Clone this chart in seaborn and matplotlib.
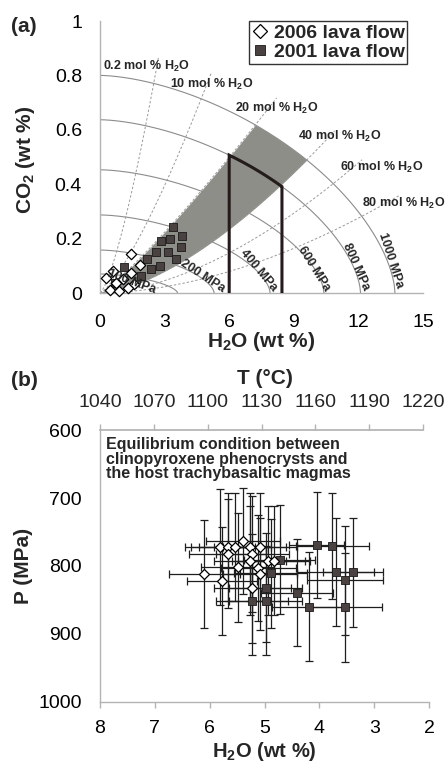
import numpy as np
import pandas as pd
import matplotlib
matplotlib.use("Agg")
import matplotlib.pyplot as plt
from matplotlib.lines import Line2D
import seaborn as sns

# ---------------- Panel (a) data ----------------
h2o_2006 = [1.42, 1.84, 0.60, 1.46, 0.28, 1.05, 1.60, 0.46, 0.90, 1.31, 0.75]
co2_2006 = [0.142, 0.104, 0.080, 0.075, 0.054, 0.050, 0.033, 0.010, 0.008, 0.017, 0.035]
h2o_2001 = [3.40, 3.79, 2.82, 3.23, 3.74, 2.60, 3.14, 3.53, 2.20, 2.79, 2.37, 1.10, 1.90, 0.70]
co2_2001 = [0.244, 0.210, 0.190, 0.200, 0.170, 0.152, 0.152, 0.126, 0.126, 0.100, 0.087, 0.097, 0.063, 0.036]

# isobars (MPa) : H2O intercept, CO2 intercept
isobar_p = [100, 200, 400, 600, 800, 1000]
isobar_h2o_max = [3.6, 5.3, 7.9, 10.4, 12.1, 13.7]
isobar_co2_max = [0.07, 0.158, 0.287, 0.453, 0.637, 0.80]

# isopleths (mol % H2O in fluid): end point and curvature exponent
isopleth_mol = ["0.2", "10", "20", "40", "60", "80"]
isopleth_end_h2o = [2.71, 5.18, 8.2, 10.9, 12.17, 13.93]
isopleth_end_co2 = [0.864, 0.812, 0.717, 0.596, 0.49, 0.36]
isopleth_exp = [1.38, 1.32, 1.16, 1.56, 1.70, 1.80]

# melt H2O range of the equilibrium box (on the 800 MPa isobar)
box_h2o = [6.0, 8.45]

# ---------------- Panel (b) data ----------------
h2o_b2006 = [5.81, 5.66, 5.54, 5.39, 5.26, 5.08, 5.67, 5.22, 5.26, 4.93, 5.49, 5.11, 5.08, 6.10, 5.77, 5.22, 4.83]
p_b2006 = [772, 772, 772, 763, 772, 772, 782, 782, 792, 792, 802, 803, 812, 812, 822, 833, 792]
h2o_err_b2006 = [0.64, 0.68, 0.66, 0.68, 0.66, 0.68, 0.70, 0.66, 0.66, 0.67, 0.66, 0.68, 0.67, 0.65, 0.64, 0.70, 0.66]
p_err_b2006 = [85, 80, 80, 78, 80, 80, 80, 85, 80, 80, 80, 78, 82, 79, 80, 80, 80]

h2o_b2001 = [4.05, 3.76, 4.72, 4.89, 3.70, 3.39, 3.53, 4.98, 4.41, 5.23, 4.98, 4.19, 3.53]
p_b2001 = [769, 770, 791, 811, 809, 809, 821, 832, 839, 851, 851, 860, 861]
h2o_err_b2001 = [0.50, 0.67, 0.65, 0.67, 0.70, 0.55, 0.70, 0.66, 0.66, 0.66, 0.66, 0.67, 0.67]
p_err_b2001 = [78, 78, 80, 80, 79, 80, 80, 80, 79, 80, 80, 80, 80]

t_ticks = [1040, 1070, 1100, 1130, 1160, 1190, 1220]

# ---------------- style ----------------
sns.set_theme(style="white")
plt.rcParams["font.family"] = ["Liberation Sans", "DejaVu Sans"]
plt.rcParams["mathtext.fontset"] = "custom"
plt.rcParams["mathtext.rm"] = "Liberation Sans"
plt.rcParams["mathtext.bf"] = "Liberation Sans:bold"
plt.rcParams["mathtext.it"] = "Liberation Sans:italic"

SPINE = "#b3b3b3"
SQ = "#4a4141"
GRAYFILL = "#8e8e89"

fig = plt.figure(figsize=(4.46, 7.62), dpi=100)
ax1 = fig.add_axes([100 / 446, 1 - 293 / 762, 323 / 446, 272 / 762])
ax2 = fig.add_axes([100 / 446, 1 - 702 / 762, 329 / 446, 272 / 762])

SE_N = 1.65


def isobar(x, a, b):
    return b * np.clip(1 - (np.asarray(x) / a) ** SE_N, 0, None) ** (1 / SE_N)


def style_axis(ax):
    for s in ["top", "right"]:
        ax.spines[s].set_visible(False)
    for s in ["left", "bottom"]:
        ax.spines[s].set_color(SPINE)
        ax.spines[s].set_linewidth(1.0)
    ax.tick_params(axis="both", which="major", direction="out", color=SPINE,
                   length=4, width=1, labelcolor="black")


# ---------------- Panel (a) ----------------
for p, a, b in zip(isobar_p, isobar_h2o_max, isobar_co2_max):
    xx = np.linspace(0, a, 400)
    ax1.plot(xx, isobar(xx, a, b), color="#8c8c8c", lw=0.8, zorder=2)

iso_fun = {}
for lab, xe, ye, k in zip(isopleth_mol, isopleth_end_h2o, isopleth_end_co2, isopleth_exp):
    c = ye / xe ** k
    iso_fun[lab] = (c, k)
    xx = np.linspace(0, xe, 300)
    ax1.plot(xx, c * xx ** k, color="#9a9a9a", lw=0.7, ls=(0, (2.5, 2)), zorder=2)

a10, b10 = isobar_h2o_max[-1], isobar_co2_max[-1]
xg = np.linspace(0.0, a10, 2000)
c20, k20 = iso_fun["20"]
c40, k40 = iso_fun["40"]
y20 = c20 * xg ** k20
y40 = c40 * xg ** k40
y1000 = isobar(xg, a10, b10)
upper = np.minimum(y20, y1000)
mask = y40 <= y1000
ax1.fill_between(xg, y40, upper, where=mask, color=GRAYFILL, lw=0, zorder=1)

a8, b8 = isobar_h2o_max[4], isobar_co2_max[4]
xb = np.linspace(box_h2o[0], box_h2o[1], 100)
bx = np.concatenate([[box_h2o[0]], xb, [box_h2o[1]]])
by = np.concatenate([[0], isobar(xb, a8, b8), [0]])
ax1.plot(bx, by, color="#241b1b", lw=2.2, zorder=3, solid_joinstyle="miter")

df_a = pd.DataFrame({
    "H2O": h2o_2006 + h2o_2001,
    "CO2": co2_2006 + co2_2001,
    "flow": ["2006 lava flow"] * len(h2o_2006) + ["2001 lava flow"] * len(h2o_2001),
})
sns.scatterplot(data=df_a[df_a.flow == "2001 lava flow"], x="H2O", y="CO2", marker="s",
                s=36, color=SQ, edgecolor="#1a1a1a", linewidth=0.6, ax=ax1, zorder=4,
                legend=False, clip_on=False)
sns.scatterplot(data=df_a[df_a.flow == "2006 lava flow"], x="H2O", y="CO2", marker="D",
                s=28, color="white", edgecolor="black", linewidth=0.9, ax=ax1, zorder=5,
                legend=False, clip_on=False)

isobar_lab_pos = [(1.45, 0.042, -20), (4.75, 0.062, -33), (7.35, 0.082, -50),
                  (9.95, 0.088, -58), (11.9, 0.097, -66), (13.5, 0.119, -72)]
for p, (x, y, r) in zip(isobar_p, isobar_lab_pos):
    ax1.text(x, y, f"{p} MPa", rotation=r, ha="center", va="center", fontsize=9,
             fontweight="bold", zorder=6, rotation_mode="anchor")

isopleth_lab_pos = [(2.17, 0.833), (5.18, 0.766), (8.2, 0.68), (11.15, 0.574),
                    (13.08, 0.462), (14.1, 0.328)]
for lab, (x, y) in zip(isopleth_mol, isopleth_lab_pos):
    ax1.text(x, y, lab + r" mol % H$_\mathbf{2}$O", ha="center", va="center",
             fontsize=9, fontweight="bold", zorder=6, clip_on=False)

ax1.set_xlim(0, 15)
ax1.set_ylim(0, 1)
ax1.set_xticks([0, 3, 6, 9, 12, 15])
ax1.set_yticks([0, 0.2, 0.4, 0.6, 0.8, 1.0])
ax1.set_yticklabels(["0", "0.2", "0.4", "0.6", "0.8", "1"])
style_axis(ax1)
ax1.tick_params(axis="x", pad=11, labelsize=14)
ax1.tick_params(axis="y", pad=9, labelsize=14)
ax1.set_xlabel(r"H$_\mathbf{2}$O (wt %)", fontsize=15, fontweight="bold")
ax1.set_ylabel(r"CO$_\mathbf{2}$ (wt %)", fontsize=15, fontweight="bold")
ax1.xaxis.set_label_coords(0.5, -0.18)
ax1.xaxis.label.set_va("center")
ax1.yaxis.set_label_coords(-0.232, 0.49)
ax1.yaxis.label.set_va("center")

handles = [
    Line2D([], [], ls="none", marker="D", ms=7.0, mfc="white", mec="black", mew=0.9),
    Line2D([], [], ls="none", marker="s", ms=6.5, mfc=SQ, mec="#1a1a1a", mew=0.6),
]
leg = ax1.legend(handles, ["2006 lava flow", "2001 lava flow"], loc="upper left",
                 bbox_to_anchor=(0.462, 1.0), borderaxespad=0, frameon=True,
                 fancybox=False, prop={"size": 14, "weight": "bold"},
                 handlelength=0.8, handletextpad=0.3, borderpad=0.15,
                 labelspacing=0.1)
leg.get_frame().set_edgecolor("black")
leg.get_frame().set_linewidth(1.0)

fig.text(11 / 446, 1 - 26 / 762, "(a)", fontsize=15, fontweight="bold", va="center")

# ---------------- Panel (b) ----------------
ax2.errorbar(h2o_b2006, p_b2006, xerr=h2o_err_b2006, yerr=p_err_b2006, fmt="none",
             ecolor="#1e1e1e", elinewidth=0.9, capsize=3, capthick=0.9, zorder=2)
ax2.errorbar(h2o_b2001, p_b2001, xerr=h2o_err_b2001, yerr=p_err_b2001, fmt="none",
             ecolor="#1e1e1e", elinewidth=0.9, capsize=3, capthick=0.9, zorder=2)
df_b = pd.DataFrame({
    "H2O": h2o_b2006 + h2o_b2001,
    "P": p_b2006 + p_b2001,
    "flow": ["2006 lava flow"] * len(h2o_b2006) + ["2001 lava flow"] * len(h2o_b2001),
})
sns.scatterplot(data=df_b[df_b.flow == "2001 lava flow"], x="H2O", y="P", marker="s",
                s=32, color=SQ, edgecolor="#1a1a1a", linewidth=0.6, ax=ax2, zorder=4,
                legend=False)
sns.scatterplot(data=df_b[df_b.flow == "2006 lava flow"], x="H2O", y="P", marker="D",
                s=26, color="white", edgecolor="black", linewidth=0.9, ax=ax2, zorder=5,
                legend=False)

ax2.set_xlim(8, 2)
ax2.set_ylim(1000, 600)
ax2.set_xticks([8, 7, 6, 5, 4, 3, 2])
ax2.set_yticks([600, 700, 800, 900, 1000])
style_axis(ax2)
ax2.tick_params(axis="x", pad=9, labelsize=14)
ax2.tick_params(axis="y", pad=9, labelsize=14)
ax2.set_xlabel(r"H$_\mathbf{2}$O (wt %)", fontsize=14.5, fontweight="bold")
ax2.set_ylabel("P (MPa)", fontsize=15, fontweight="bold")
ax2.xaxis.set_label_coords(0.5, -0.183)
ax2.xaxis.label.set_va("center")
ax2.yaxis.set_label_coords(-0.232, 0.5)
ax2.yaxis.label.set_va("center")

ax3 = ax2.twiny()
ax3.set_xlim(1040, 1040 + 180 * 329 / 323)
ax3.set_xticks(t_ticks)
for s in ["bottom", "right", "left"]:
    ax3.spines[s].set_visible(False)
ax3.spines["top"].set_color(SPINE)
ax3.spines["top"].set_bounds(1040, 1220)
ax3.tick_params(axis="x", direction="out", color=SPINE, length=4, width=1,
                pad=10, labelsize=14)
ax3.set_xlabel("T (°C)", fontsize=15, fontweight="bold")
ax3.xaxis.set_label_coords(0.5, 1.19)
ax3.xaxis.label.set_va("center")

ax2.text(0.018, 0.975,
         "Equilibrium condition between\nclinopyroxene phenocrysts and\nthe host trachybasaltic magmas",
         transform=ax2.transAxes, ha="left", va="top", fontsize=11.5, fontweight="bold",
         linespacing=0.98, zorder=6)

fig.text(11 / 446, 1 - 380 / 762, "(b)", fontsize=15, fontweight="bold", va="center")

fig.savefig("out.png", dpi=100)
